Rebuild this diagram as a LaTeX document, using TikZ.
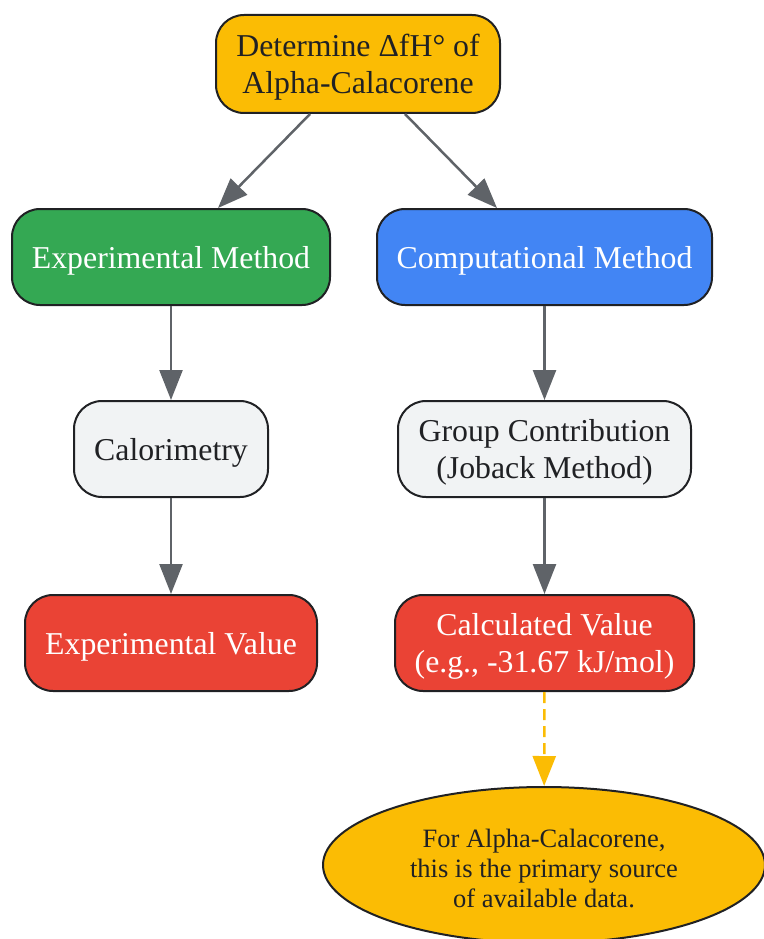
\documentclass[tikz,border=0pt]{standalone}
\usepackage{fontspec}
\setmainfont{Liberation Serif}
\usetikzlibrary{arrows.meta,shapes.geometric}
\definecolor{cyellow}{HTML}{FBBC04}
\definecolor{cgreen}{HTML}{34A853}
\definecolor{cblue}{HTML}{4285F4}
\definecolor{cred}{HTML}{EA4335}
\definecolor{cgrey}{HTML}{F1F3F4}
\definecolor{cdark}{HTML}{202124}
\definecolor{carrow}{HTML}{5F6368}
\tikzset{
  box/.style={draw=cdark, line width=2pt, rounded corners=28pt, inner sep=0pt,
    minimum height=96pt},
  txt/.style={inner sep=0pt, align=center, font=\fontsize{31.8}{37}\selectfont, yshift=-3.5pt},
  darktext/.style={text=cdark},
  lighttext/.style={text=white},
  conn/.style={draw=carrow, line width=2.5pt, -{Triangle[length=30pt,width=23pt]}},
  dconn/.style={draw=cyellow, line width=2.5pt, dash pattern=on 11pt off 6pt,
    -{Triangle[length=30pt,width=23pt]}},
}
\begin{document}
\begin{tikzpicture}[x=1pt,y=-1pt]
\useasboundingbox (0,0) rectangle (763,939);
\node[box, fill=cyellow, minimum width=284pt, minimum height=98pt] (top) at (358,64) {};
\node[txt, darktext] (top-t) at (top.center) {Determine ΔfH° of\\Alpha-Calacorene};
\node[box, fill=cgreen, minimum width=318pt] (exp) at (171,257) {};
\node[txt, lighttext] (exp-t) at (exp.center) {Experimental Method};
\node[box, fill=cblue, minimum width=335pt] (comp) at (544.5,257) {};
\node[txt, lighttext] (comp-t) at (comp.center) {Computational Method};
\node[box, fill=cgrey, minimum width=194pt] (cal) at (171,449) {};
\node[txt, darktext] (cal-t) at (cal.center) {Calorimetry};
\node[box, fill=cgrey, minimum width=293pt] (grp) at (544.5,449) {};
\node[txt, darktext] (grp-t) at (grp.center) {Group Contribution\\(Joback Method)};
\node[box, fill=cred, minimum width=292pt] (expv) at (171,643) {};
\node[txt, lighttext] (expv-t) at (expv.center) {Experimental Value};
\node[box, fill=cred, minimum width=299pt] (calc) at (544.5,643) {};
\node[txt, lighttext] (calc-t) at (calc.center) {Calculated Value\\(e.g., -31.67 kJ/mol)};
\node[ellipse, draw=cdark, line width=2pt, fill=cyellow, inner sep=0pt,
  minimum width=442pt, minimum height=156pt] (note) at (544,865) {};
\node[txt, darktext, font=\fontsize{26.5}{30}\selectfont] (note-t) at (note.center)
  {For Alpha-Calacorene,\\this is the primary source\\of available data.};
\draw[conn] ([xshift=-48pt]top.south) -- ([xshift=47pt]exp.north);
\draw[conn] ([xshift=47pt]top.south) -- ([xshift=-47.5pt]comp.north);
\draw[conn] (exp) -- (cal);
\draw[conn] (cal) -- (expv);
\draw[conn] (comp) -- (grp);
\draw[conn] (grp) -- (calc);
\draw[dconn] (calc) -- (note);
\end{tikzpicture}
\end{document}
